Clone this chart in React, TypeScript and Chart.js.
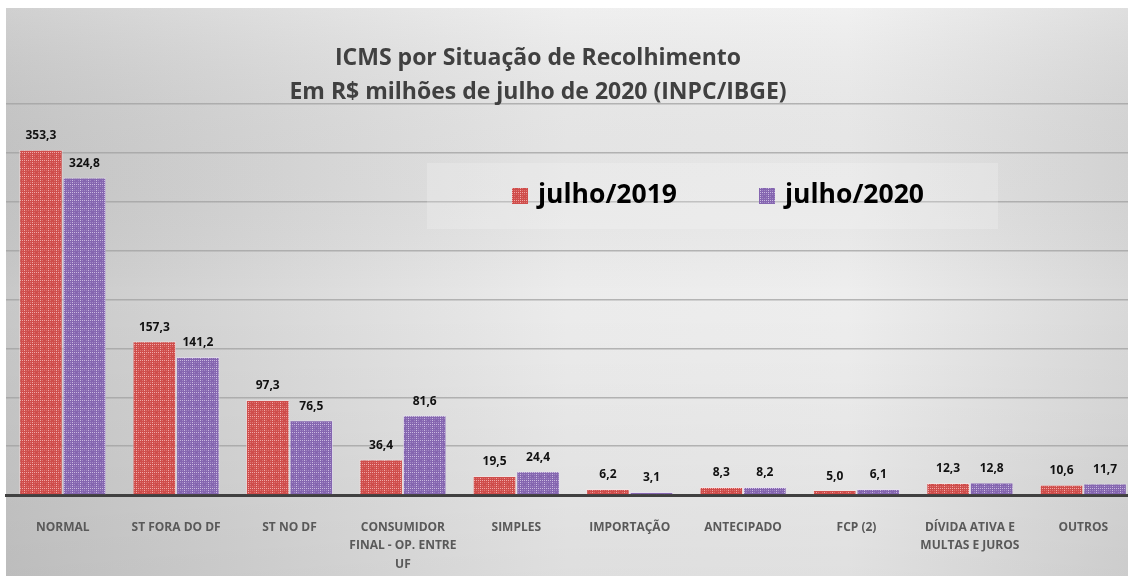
import React, { useEffect, useRef } from "react";
import { Chart, registerables } from "chart.js";

Chart.register(...registerables);

const categories: string[][] = [
  ["NORMAL"],
  ["ST FORA DO DF"],
  ["ST NO DF"],
  ["CONSUMIDOR", "FINAL - OP. ENTRE", "UF"],
  ["SIMPLES"],
  ["IMPORTAÇÃO"],
  ["ANTECIPADO"],
  ["FCP (2)"],
  ["DÍVIDA ATIVA E", "MULTAS E JUROS"],
  ["OUTROS"],
];
const julho2019 = [353.3, 157.3, 97.3, 36.4, 19.5, 6.2, 8.3, 5.0, 12.3, 10.6];
const julho2020 = [324.8, 141.2, 76.5, 81.6, 24.4, 3.1, 8.2, 6.1, 12.8, 11.7];
const seriesNames = ["julho/2019", "julho/2020"];
const titleLines = [
  "ICMS por Situação de Recolhimento",
  "Em R$ milhões de julho de 2020 (INPC/IBGE)",
];
const yMax = 400;
const yStep = 50;

const FONT = "'Open Sans', Lato, sans-serif";

function makePattern(base: string, light: string, faint: string): CanvasPattern | string {
  const c = document.createElement("canvas");
  c.width = 8;
  c.height = 8;
  const g = c.getContext("2d");
  if (!g) return base;
  g.fillStyle = base;
  g.fillRect(0, 0, 8, 8);
  for (let y = 0; y < 8; y++) {
    for (let x = 0; x < 8; x++) {
      if ((x + y) % 2 === 0 && (x % 8 === 0 || y % 8 === 0)) {
        g.fillStyle = light;
        g.fillRect(x, y, 1, 1);
      } else if ((x + y) % 2 === 0 && (x % 4 === 2 || y % 4 === 2)) {
        g.fillStyle = faint;
        g.fillRect(x, y, 1, 1);
      }
    }
  }
  const p = g.createPattern(c, "repeat");
  return p || base;
}

const backgroundPlugin = {
  id: "bgPlugin",
  beforeDraw(chart: any) {
    const { ctx, width, height } = chart;
    ctx.save();
    ctx.fillStyle = "#ffffff";
    ctx.fillRect(0, 0, width, height);
    const gx = ctx.createLinearGradient(6, 0, 1128, 0);
    gx.addColorStop(0, "#c8c8c8");
    gx.addColorStop(0.5, "#ececec");
    gx.addColorStop(0.75, "#eeeeee");
    gx.addColorStop(1, "#d9d9d9");
    ctx.fillStyle = gx;
    ctx.fillRect(6, 8, width - 6, height - 8);
    const gy = ctx.createLinearGradient(0, 8, 0, height);
    gy.addColorStop(0, "rgba(255,255,255,0.15)");
    gy.addColorStop(0.5, "rgba(0,0,0,0)");
    gy.addColorStop(1, "rgba(0,0,0,0.06)");
    ctx.fillStyle = gy;
    ctx.fillRect(6, 8, width - 6, height - 8);
    ctx.restore();
  },
};

const titlePlugin = {
  id: "titlePlugin",
  afterDraw(chart: any) {
    const { ctx } = chart;
    ctx.save();
    ctx.fillStyle = "#404040";
    ctx.font = `bold 23px ${FONT}`;
    ctx.textAlign = "center";
    ctx.textBaseline = "middle";
    ctx.fillText(titleLines[0], 538, 58);
    ctx.fillText(titleLines[1], 538, 92);
    ctx.restore();
  },
};

const legendPlugin = {
  id: "boxLegend",
  afterDatasetsDraw(chart: any) {
    const { ctx } = chart;
    ctx.save();
    ctx.fillStyle = "rgba(255,255,255,0.2)";
    ctx.fillRect(427, 163, 571, 66);
    const xs = [512, 759];
    chart.data.datasets.forEach((ds: any, i: number) => {
      const x = xs[i];
      ctx.fillStyle = ds.backgroundColor;
      ctx.fillRect(x, 188, 16, 16);
      ctx.fillStyle = "#000000";
      ctx.font = `bold 26.5px ${FONT}`;
      ctx.textAlign = "left";
      ctx.textBaseline = "middle";
      ctx.fillText(ds.label, x + 26, 195);
    });
    ctx.restore();
  },
};

const labelPlugin = {
  id: "valueLabels",
  afterDatasetsDraw(chart: any) {
    const { ctx } = chart;
    ctx.save();
    ctx.fillStyle = "#111111";
    ctx.font = `bold 12px ${FONT}`;
    ctx.textAlign = "center";
    ctx.textBaseline = "middle";
    chart.data.datasets.forEach((ds: any, i: number) => {
      const meta = chart.getDatasetMeta(i);
      meta.data.forEach((el: any, j: number) => {
        const v = ds.data[j] as number;
        ctx.fillText(v.toFixed(1).replace(".", ","), el.x, el.y - 14);
      });
    });
    ctx.restore();
  },
};

export default function App() {
  const ref = useRef<HTMLCanvasElement | null>(null);
  useEffect(() => {
    if (!ref.current) return;
    const red = makePattern("#cf4d4b", "#f0a9a7", "#dc7471");
    const purple = makePattern("#8566b0", "#c9b9e0", "#a088c4");
    const chart = new Chart(ref.current, {
      type: "bar",
      data: {
        labels: categories,
        datasets: [
          {
            label: seriesNames[0],
            data: julho2019,
            backgroundColor: red as any,
            borderColor: "rgba(255,230,230,0.5)",
            borderWidth: 1,
            categoryPercentage: 0.768,
            barPercentage: 1.0,
          },
          {
            label: seriesNames[1],
            data: julho2020,
            backgroundColor: purple as any,
            borderColor: "rgba(235,225,250,0.5)",
            borderWidth: 1,
            categoryPercentage: 0.768,
            barPercentage: 1.0,
          },
        ],
      },
      options: {
        responsive: false,
        animation: false,
        layout: { padding: { left: 6, right: 6, top: 104, bottom: 0 } },
        plugins: {
          legend: { display: false },
          title: { display: false },
          tooltip: { enabled: false },
        },
        scales: {
          x: {
            grid: { display: false },
            border: { display: true, color: "#404040", width: 3 },
            ticks: {
              color: "#595959",
              font: { family: FONT, size: 12, weight: "bold", lineHeight: 1.52 } as any,
              padding: 15.5,
              maxRotation: 0,
              autoSkip: false,
            },
            afterFit(scale: any) {
              scale.height = 81;
            },
          },
          y: {
            min: 0,
            max: yMax,
            ticks: { display: false, stepSize: yStep },
            grid: { color: "rgba(160,160,160,0.75)", lineWidth: 1.5, drawTicks: false },
            border: { display: false },
          },
        },
      },
      plugins: [backgroundPlugin, titlePlugin, legendPlugin, labelPlugin],
    });
    return () => chart.destroy();
  }, []);
  return (
    <div
      style={{
        position: "fixed",
        left: 0,
        top: 0,
        width: 1128,
        height: 576,
        overflow: "hidden",
        background: "#fff",
      }}
    >
      <canvas ref={ref} width={1146} height={576} style={{ display: "block" }} />
    </div>
  );
}
